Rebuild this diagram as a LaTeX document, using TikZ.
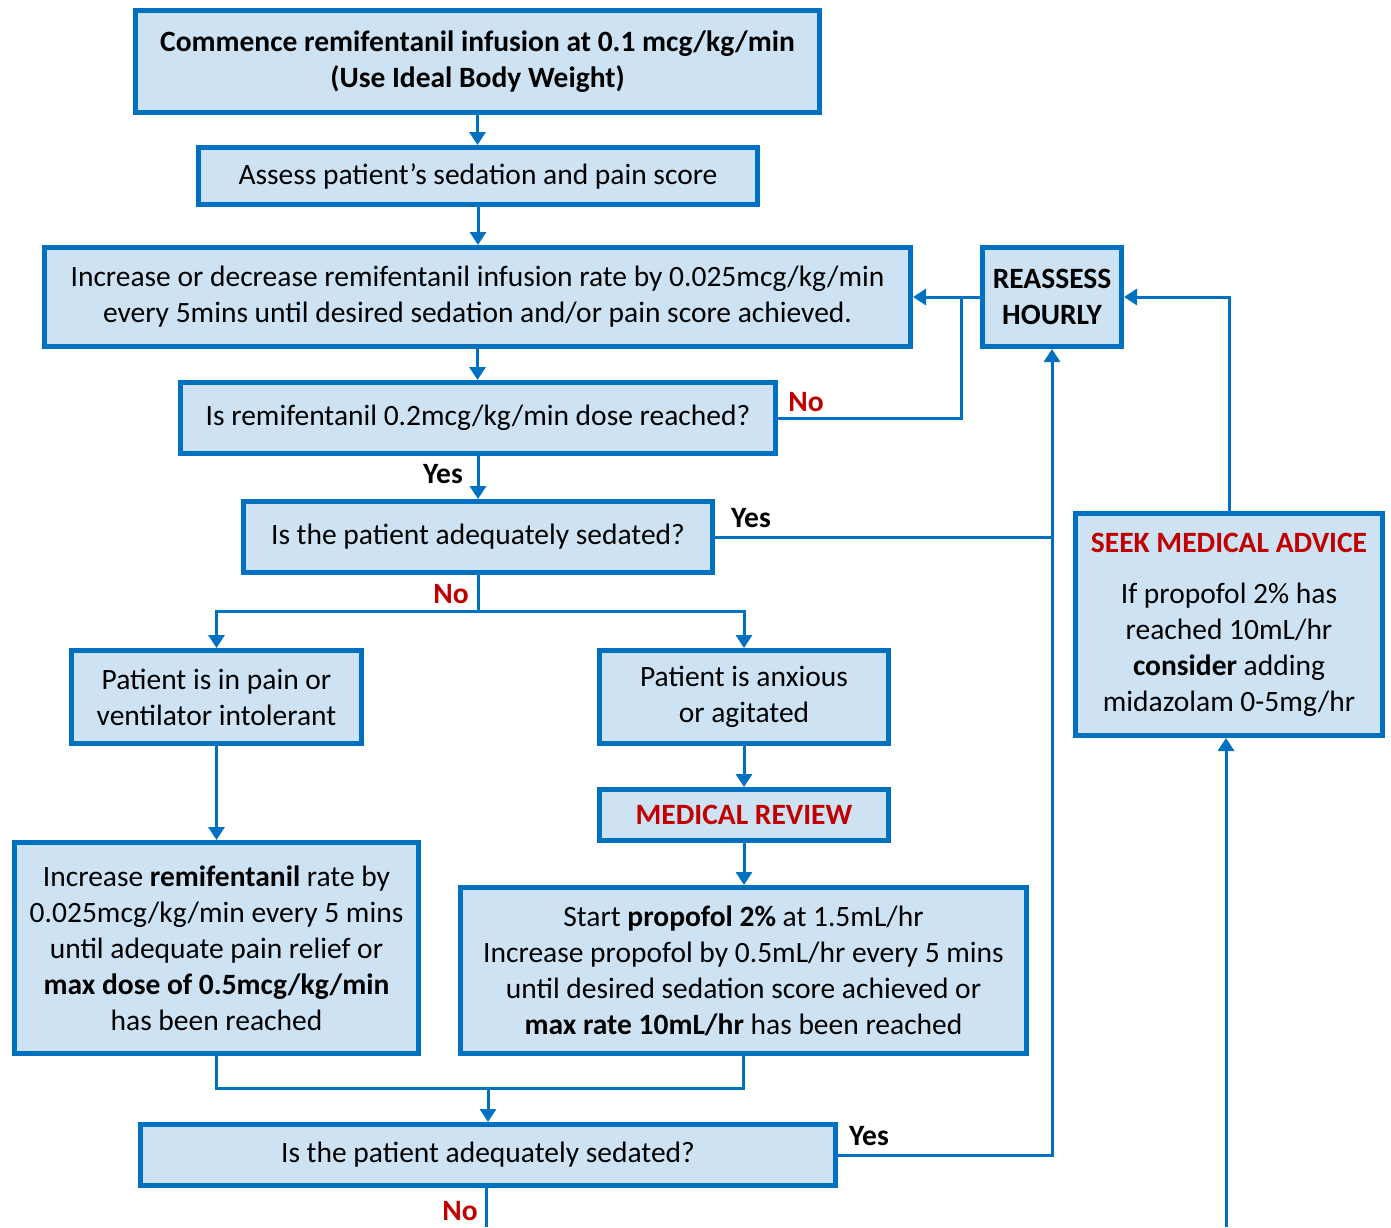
\documentclass[tikz,border=0pt]{standalone}
\usepackage{fontspec}
\setmainfont{Carlito}
\usetikzlibrary{arrows.meta}
\definecolor{bblue}{RGB}{0,112,192}
\definecolor{bfill}{RGB}{205,227,243}
\definecolor{bred}{RGB}{192,0,0}
\tikzset{
  box/.style={draw=bblue, fill=bfill, line width=5pt, align=center, inner sep=0pt, font=\fontsize{29.5}{36}\selectfont},
  conn/.style={draw=bblue, line width=3pt},
  arr/.style={conn, -{Triangle[length=13pt,width=16pt]}},
  lab/.style={font=\fontsize{29.5}{32}\selectfont\bfseries, inner sep=0pt},
}
\begin{document}
\begin{tikzpicture}[x=1pt,y=-1pt]
\useasboundingbox (0,0) rectangle (1391,1227);
\node[box, minimum width=684pt, minimum height=102pt, font=\fontsize{29.5}{36}\selectfont\bfseries] (n1) at (477.5,61.5) {Commence remifentanil infusion at 0.1 mcg/kg/min\\(Use Ideal Body Weight)};
\node[box, minimum width=559pt, minimum height=57pt] (n2) at (478,176) {Assess patient’s sedation and pain score};
\node[box, minimum width=866pt, minimum height=99pt] (n3) at (477.5,297) {Increase or decrease remifentanil infusion rate by 0.025mcg/kg/min\\every 5mins until desired sedation and/or pain score achieved.};
\node[box, minimum width=595pt, minimum height=71pt] (n4) at (478,418) {Is remifentanil 0.2mcg/kg/min dose reached?};
\node[box, minimum width=469pt, minimum height=71pt] (n5) at (478,537) {Is the patient adequately sedated?};
\node[box, minimum width=290pt, minimum height=93pt] (n6) at (216.5,697) {Patient is in pain or\\ventilator intolerant};
\node[box, minimum width=289pt, minimum height=93pt] (n7) at (744,697) {Patient is anxious\\or agitated};
\node[box, minimum width=289pt, minimum height=51pt, text=bred, font=\fontsize{29.5}{36}\selectfont\bfseries] (n8) at (744,815) {MEDICAL REVIEW};
\node[box, minimum width=404pt, minimum height=211pt] (n9) at (216.5,948) {Increase \textbf{remifentanil} rate by\\0.025mcg/kg/min every 5 mins\\until adequate pain relief or\\\textbf{max dose of 0.5mcg/kg/min}\\has been reached};
\node[box, minimum width=566pt, minimum height=166pt] (n10) at (743.5,970.5) {Start \textbf{propofol 2\%} at 1.5mL/hr\\Increase propofol by 0.5mL/hr every 5 mins\\until desired sedation score achieved or\\\textbf{max rate 10mL/hr} has been reached};
\node[box, minimum width=695pt, minimum height=61pt] (n11) at (488,1155) {Is the patient adequately sedated?};
\node[box, minimum width=139pt, minimum height=99pt, font=\fontsize{29.5}{36}\selectfont\bfseries] (n12) at (1052,297) {REASSESS\\HOURLY};
\node[box, minimum width=307pt, minimum height=222pt] (n13) at (1229,624.5) {\textcolor{bred}{\bfseries SEEK MEDICAL ADVICE}\\[15pt]If propofol 2\% has\\reached 10mL/hr\\\textbf{consider} adding\\midazolam 0-5mg/hr};
% coordinates
\coordinate (j1) at (961,297);
\coordinate (j2) at (1052,537);
\coordinate (j3) at (478,611);
\coordinate (j4) at (488,1088);
\coordinate (e1) at (486,1227);
\coordinate (e2) at (1226,1227);
% connectors
\draw[arr] (n1.south) -- (n1.south |- n2.north);
\draw[arr] (n2.south) -- (n2.south |- n3.north);
\draw[arr] (n3.south) -- (n3.south |- n4.north);
\draw[arr] (n4.south) -- (n4.south |- n5.north);
\draw[arr] (n12.west) -- (n3.east);
\draw[conn] (n4.east) -| (j1);
\draw[conn] (n5.east) -- (j2);
\draw[arr] (n11.east) -| (n12.south);
\draw[conn] (n5.south) -- (j3);
\draw[arr] (j3) -| (n6.north);
\draw[arr] (j3) -| (n7.north);
\draw[arr] (n6.south) -- (n6.south |- n9.north);
\draw[arr] (n7.south) -- (n7.south |- n8.north);
\draw[arr] (n8.south) -- (n8.south |- n10.north);
\draw[conn] (n9.south) |- (n10.south |- j4) -- (n10.south);
\draw[arr] (j4) -- (n11.north);
\draw[conn] (n11.south -| e1) -- (e1);
\draw[arr] (n13.north) |- (n12.east);
\draw[arr] (e2) -- (e2 |- n13.south);
% labels
\node[lab] (l1) at (443,474) {Yes};
\node[lab, text=bred] (l2) at (806,402) {No};
\node[lab] (l3) at (751,518) {Yes};
\node[lab, text=bred] (l4) at (451,594) {No};
\node[lab] (l5) at (869,1136) {Yes};
\node[lab, text=bred] (l6) at (460,1211) {No};
\end{tikzpicture}
\end{document}
